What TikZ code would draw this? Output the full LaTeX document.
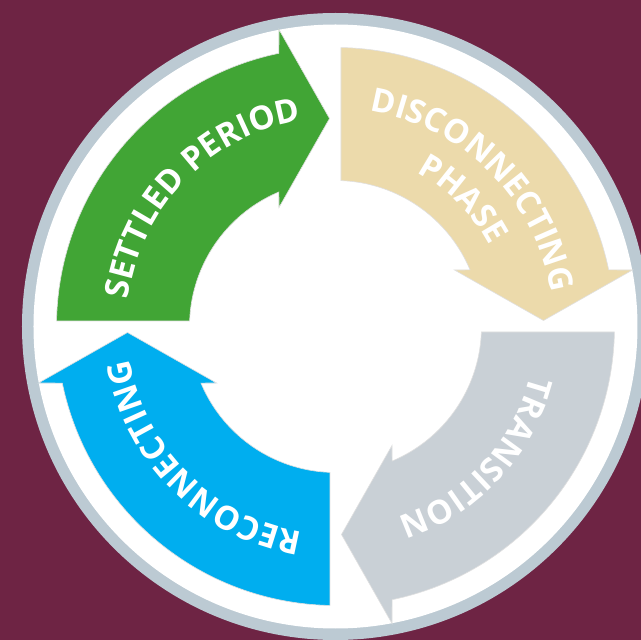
\documentclass[tikz,border=0pt]{standalone}
\usepackage{fontspec}
\newfontfamily\cyclefont{Open Sans}
\usetikzlibrary{decorations.text}

\definecolor{maroonbg}{HTML}{6E2444}
\definecolor{ringgray}{HTML}{BCCAD3}
\definecolor{settledgreen}{HTML}{41A535}
\definecolor{disctan}{HTML}{ECDAAB}
\definecolor{transgray}{HTML}{C9D0D6}
\definecolor{reconblue}{HTML}{00AEEF}

\tikzset{
  phase arrow/.style={draw=black!12, line width=0.6pt},
  arc label/.style={decorate, decoration={text along path, text align=center,
      text color=white, text={|\cyclefont\bfseries\fontsize{33}{33}\selectfont|#1}}}
}

\begin{document}
\begin{tikzpicture}[x=1pt, y=1pt]

    % Background and frame
    \useasboundingbox (-335.5,-313.5) rectangle (305.5,326.5);
    \fill[maroonbg] (-335.5,-313.5) rectangle (305.5,326.5);
    \clip (-335.5,-313.5) rectangle (305.5,326.5);
    \fill[ringgray] (0,0) circle[radius=313.5];
    \fill[white] (0,0) circle[radius=302];

    % Settled period (top left)
    \path[phase arrow, fill=settledgreen] (178.87:279) arc[start angle=178.87, end angle=101.7, radius=279]
        -- (-56.5,297) -- (-6,208) -- (-56.5,119) -- (112.8:146)
        arc[start angle=112.8, end angle=177.84, radius=146] -- cycle;

    % Disconnecting phase (top right)
    \begin{scope}[rotate=-90]
    \path[phase arrow, fill=disctan] (178.87:279) arc[start angle=178.87, end angle=101.7, radius=279]
        -- (-56.5,297) -- (-6,208) -- (-56.5,119) -- (112.8:146)
        arc[start angle=112.8, end angle=177.84, radius=146] -- cycle;
    \end{scope}

    % Transition (bottom right)
    \begin{scope}[rotate=-180]
    \path[phase arrow, fill=transgray] (178.87:279) arc[start angle=178.87, end angle=101.7, radius=279]
        -- (-56.5,297) -- (-6,208) -- (-56.5,119) -- (112.8:146)
        arc[start angle=112.8, end angle=177.84, radius=146] -- cycle;
    \end{scope}

    % Reconnecting (bottom left)
    \begin{scope}[rotate=-270]
    \path[phase arrow, fill=reconblue] (178.87:279) arc[start angle=178.87, end angle=101.7, radius=279]
        -- (-56.5,297) -- (-6,208) -- (-56.5,119) -- (112.8:146)
        arc[start angle=112.8, end angle=177.84, radius=146] -- cycle;
    \end{scope}

    % Labels along the arcs
    \path[arc label=SETTLED PERIOD] (177:209) arc[start angle=177, end angle=95, radius=209];
    \path[arc label=DISCONNECTING] (89:218) arc[start angle=89, end angle=1, radius=218];
    \path[arc label=PHASE] (70:174) arc[start angle=70, end angle=20, radius=174];
    \path[arc label=TRANSITION] (-2:201) arc[start angle=-2, end angle=-84, radius=201];
    \path[arc label=RECONNECTING] (-91:208) arc[start angle=-91, end angle=-179, radius=208];

\end{tikzpicture}
\end{document}
